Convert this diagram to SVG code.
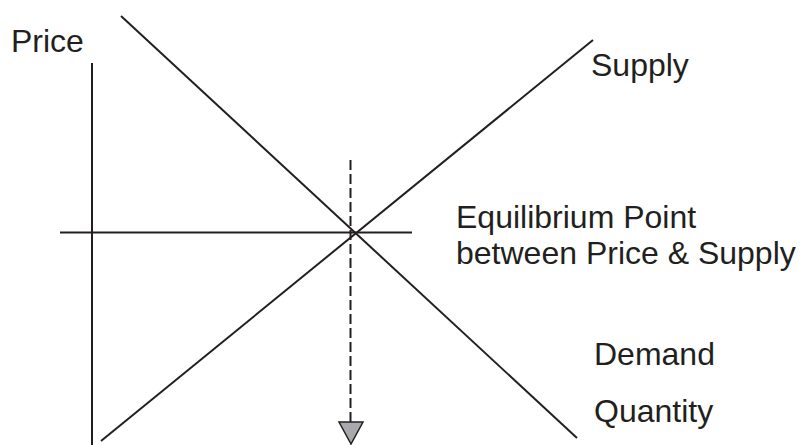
<svg xmlns="http://www.w3.org/2000/svg" width="803" height="445" viewBox="0 0 803 445">
<style>
.ln{stroke:#231f20;stroke-width:2;fill:none}
.lbl{font-family:"Liberation Sans",Arial,sans-serif;font-size:32px;fill:#231f20}
</style>
<rect width="803" height="445" fill="#ffffff"/>
<g id="connectors">
<line class="ln" x1="92" y1="63" x2="92" y2="445" stroke-width="2.5"/>
<line class="ln" x1="60" y1="232.5" x2="412" y2="232.5"/>
<line class="ln" x1="121" y1="16" x2="577" y2="438"/>
<line class="ln" x1="101" y1="441" x2="593" y2="40"/>
<line class="ln" x1="350.5" y1="160" x2="350.5" y2="422" stroke-dasharray="10 4"/>
<polygon points="339,422 363,422 351,444" fill="#a7a9ac" stroke="#231f20" stroke-width="1.5"/>
</g>
<g id="price"><text class="lbl" x="11" y="52">Price</text></g>
<g id="supply"><text class="lbl" x="591" y="76">Supply</text></g>
<g id="equilibrium"><text class="lbl" x="456" y="228">Equilibrium Point</text><text class="lbl" x="456" y="264">between Price &amp; Supply</text></g>
<g id="demand"><text class="lbl" x="594" y="365">Demand</text></g>
<g id="quantity"><text class="lbl" x="594" y="422">Quantity</text></g>
</svg>
